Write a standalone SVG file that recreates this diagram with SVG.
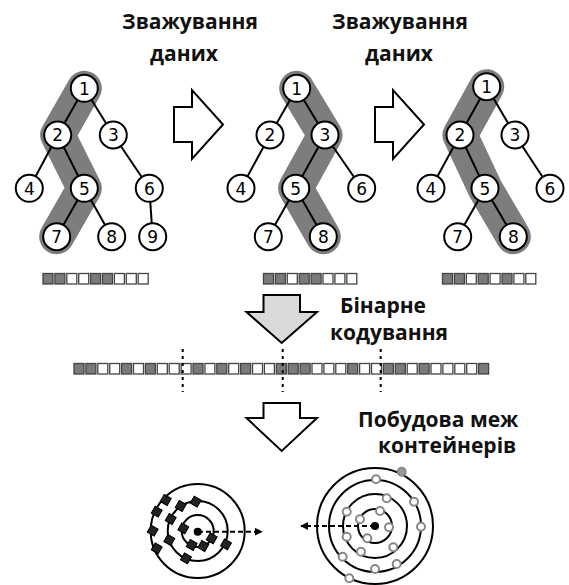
<svg xmlns="http://www.w3.org/2000/svg" width="569" height="585" viewBox="0 0 569 585">
<style>
.lbl{font-family:"Open Sans","Liberation Sans",sans-serif;font-weight:bold;font-size:21px;fill:#111}
.hl{fill:none;stroke:#7d7d7d;stroke-width:35;stroke-linecap:round;stroke-linejoin:round}
.edge{stroke:#000;stroke-width:2}
.node circle{fill:#fff;stroke:#000;stroke-width:2}
.node text{font-family:"DejaVu Sans",sans-serif;font-size:17px;text-anchor:middle;fill:#000}
.arr{fill:#fff;stroke:#000;stroke-width:2;stroke-linejoin:miter}
.d{fill:#7a7a7a;stroke:#444;stroke-width:1.3}
.w{fill:#fff;stroke:#444;stroke-width:1.3}
.dot{stroke:#000;stroke-width:2;stroke-dasharray:3 4}
.ring{fill:none;stroke:#000;stroke-width:2}
.sq{fill:#222;stroke:#000;stroke-width:1}
.oc{fill:#fff;stroke:#888;stroke-width:2}
</style>
<defs>
<marker id="ah" viewBox="0 0 10 10" refX="9" refY="5" markerWidth="4" markerHeight="4" orient="auto-start-reverse"><path d="M0,0 L10,5 L0,10 z" fill="#000"/></marker>
</defs>
<rect width="569" height="585" fill="#fff"/>

<!-- labels -->
<g id="label1"><text class="lbl" x="190" y="29" text-anchor="middle">Зважування</text><text class="lbl" x="184" y="61" text-anchor="middle">даних</text></g>
<g id="label2"><text class="lbl" x="400" y="29" text-anchor="middle">Зважування</text><text class="lbl" x="399" y="61" text-anchor="middle">даних</text></g>
<g id="label3"><text class="lbl" x="340" y="313">Бінарне</text><text class="lbl" x="330" y="340">кодування</text></g>
<g id="label4"><text class="lbl" x="358" y="427">Побудова меж</text><text class="lbl" x="378" y="453">контейнерів</text></g>

<!-- highlights -->
<g id="highlights">
<polyline class="hl" points="84.3,88.3 57.7,135 84.3,188.3 56.7,236.7"/>
<polyline class="hl" points="296.7,88.3 325,135 295.7,188.3 323.3,236.7"/>
<polyline class="hl" points="486.7,86.7 460,135 485,188.3 513.3,236.7"/>
</g>

<g id="connectors">
<!-- tree 1 -->
<line class="edge" x1="84.3" y1="88.3" x2="57.7" y2="135"/>
<line class="edge" x1="84.3" y1="88.3" x2="113.3" y2="135"/>
<line class="edge" x1="57.7" y1="135" x2="29.3" y2="188.3"/>
<line class="edge" x1="57.7" y1="135" x2="84.3" y2="188.3"/>
<line class="edge" x1="113.3" y1="135" x2="149.3" y2="188.3"/>
<line class="edge" x1="84.3" y1="188.3" x2="56.7" y2="236.7"/>
<line class="edge" x1="84.3" y1="188.3" x2="111.7" y2="236.7"/>
<line class="edge" x1="149.3" y1="188.3" x2="152.7" y2="236.7"/>
<!-- tree 2 -->
<line class="edge" x1="296.7" y1="88.3" x2="270" y2="135"/>
<line class="edge" x1="296.7" y1="88.3" x2="325" y2="135"/>
<line class="edge" x1="270" y1="135" x2="241" y2="188.3"/>
<line class="edge" x1="325" y1="135" x2="295.7" y2="188.3"/>
<line class="edge" x1="325" y1="135" x2="361.7" y2="188.3"/>
<line class="edge" x1="295.7" y1="188.3" x2="268.3" y2="236.7"/>
<line class="edge" x1="295.7" y1="188.3" x2="323.3" y2="236.7"/>
<!-- tree 3 -->
<line class="edge" x1="486.7" y1="86.7" x2="460" y2="135"/>
<line class="edge" x1="486.7" y1="86.7" x2="515" y2="135"/>
<line class="edge" x1="460" y1="135" x2="431" y2="188.3"/>
<line class="edge" x1="460" y1="135" x2="485" y2="188.3"/>
<line class="edge" x1="515" y1="135" x2="550" y2="188.3"/>
<line class="edge" x1="485" y1="188.3" x2="457.7" y2="236.7"/>
<line class="edge" x1="485" y1="188.3" x2="513.3" y2="236.7"/>
<!-- big arrows -->
<polygon class="arr" points="174,107 192,107 192,90 223,124.5 192,159 192,142 174,142"/>
<polygon class="arr" points="375,107 393,107 393,90 424,124.5 393,159 393,142 375,142"/>
<polygon class="arr" style="fill:#d9d9d9" points="263.5,295 300,295 300,312 317,312 281.7,343 246.5,312 263.5,312"/>
<polygon class="arr" points="263.5,403 300,403 300,418 317,418 281.7,451 246.5,418 263.5,418"/>
<!-- dashed arrows -->
<line x1="198" y1="531.7" x2="262" y2="531.7" stroke="#000" stroke-width="2" stroke-dasharray="5 3" marker-end="url(#ah)"/>
<line x1="375" y1="526" x2="301" y2="526" stroke="#000" stroke-width="2" stroke-dasharray="5 3" marker-end="url(#ah)"/>
</g>

<!-- tree 1 nodes -->
<g id="t1n1" class="node"><circle cx="84.3" cy="88.3" r="13.5"/><text x="84.3" y="94.5">1</text></g>
<g id="t1n2" class="node"><circle cx="57.7" cy="135" r="13.5"/><text x="57.7" y="141.2">2</text></g>
<g id="t1n3" class="node"><circle cx="113.3" cy="135" r="13.5"/><text x="113.3" y="141.2">3</text></g>
<g id="t1n4" class="node"><circle cx="29.3" cy="188.3" r="13.5"/><text x="29.3" y="194.5">4</text></g>
<g id="t1n5" class="node"><circle cx="84.3" cy="188.3" r="13.5"/><text x="84.3" y="194.5">5</text></g>
<g id="t1n6" class="node"><circle cx="149.3" cy="188.3" r="13.5"/><text x="149.3" y="194.5">6</text></g>
<g id="t1n7" class="node"><circle cx="56.7" cy="236.7" r="13.5"/><text x="56.7" y="242.9">7</text></g>
<g id="t1n8" class="node"><circle cx="111.7" cy="236.7" r="13.5"/><text x="111.7" y="242.9">8</text></g>
<g id="t1n9" class="node"><circle cx="152.7" cy="236.7" r="13.5"/><text x="152.7" y="242.9">9</text></g>
<!-- tree 2 nodes -->
<g id="t2n1" class="node"><circle cx="296.7" cy="88.3" r="13.5"/><text x="296.7" y="94.5">1</text></g>
<g id="t2n2" class="node"><circle cx="270" cy="135" r="13.5"/><text x="270" y="141.2">2</text></g>
<g id="t2n3" class="node"><circle cx="325" cy="135" r="13.5"/><text x="325" y="141.2">3</text></g>
<g id="t2n4" class="node"><circle cx="241" cy="188.3" r="13.5"/><text x="241" y="194.5">4</text></g>
<g id="t2n5" class="node"><circle cx="295.7" cy="188.3" r="13.5"/><text x="295.7" y="194.5">5</text></g>
<g id="t2n6" class="node"><circle cx="361.7" cy="188.3" r="13.5"/><text x="361.7" y="194.5">6</text></g>
<g id="t2n7" class="node"><circle cx="268.3" cy="236.7" r="13.5"/><text x="268.3" y="242.9">7</text></g>
<g id="t2n8" class="node"><circle cx="323.3" cy="236.7" r="13.5"/><text x="323.3" y="242.9">8</text></g>
<!-- tree 3 nodes -->
<g id="t3n1" class="node"><circle cx="486.7" cy="86.7" r="13.5"/><text x="486.7" y="92.9">1</text></g>
<g id="t3n2" class="node"><circle cx="460" cy="135" r="13.5"/><text x="460" y="141.2">2</text></g>
<g id="t3n3" class="node"><circle cx="515" cy="135" r="13.5"/><text x="515" y="141.2">3</text></g>
<g id="t3n4" class="node"><circle cx="431" cy="188.3" r="13.5"/><text x="431" y="194.5">4</text></g>
<g id="t3n5" class="node"><circle cx="485" cy="188.3" r="13.5"/><text x="485" y="194.5">5</text></g>
<g id="t3n6" class="node"><circle cx="550" cy="188.3" r="13.5"/><text x="550" y="194.5">6</text></g>
<g id="t3n7" class="node"><circle cx="457.7" cy="236.7" r="13.5"/><text x="457.7" y="242.9">7</text></g>
<g id="t3n8" class="node"><circle cx="513.3" cy="236.7" r="13.5"/><text x="513.3" y="242.9">8</text></g>

<!-- strips -->
<g id="strip1">
<rect class="d" x="43" y="273.5" width="10" height="10.5"/>
<rect class="d" x="54.9" y="273.5" width="10" height="10.5"/>
<rect class="w" x="66.8" y="273.5" width="10" height="10.5"/>
<rect class="w" x="78.7" y="273.5" width="10" height="10.5"/>
<rect class="d" x="90.6" y="273.5" width="10" height="10.5"/>
<rect class="d" x="102.5" y="273.5" width="10" height="10.5"/>
<rect class="w" x="114.4" y="273.5" width="10" height="10.5"/>
<rect class="w" x="126.3" y="273.5" width="10" height="10.5"/>
<rect class="w" x="138.2" y="273.5" width="10" height="10.5"/>
</g>
<g id="strip2">
<rect class="d" x="263.5" y="273.5" width="10" height="10.5"/>
<rect class="d" x="275.4" y="273.5" width="10" height="10.5"/>
<rect class="w" x="287.3" y="273.5" width="10" height="10.5"/>
<rect class="d" x="299.2" y="273.5" width="10" height="10.5"/>
<rect class="d" x="311.1" y="273.5" width="10" height="10.5"/>
<rect class="w" x="323" y="273.5" width="10" height="10.5"/>
<rect class="w" x="334.9" y="273.5" width="10" height="10.5"/>
<rect class="w" x="346.8" y="273.5" width="10" height="10.5"/>
</g>
<g id="strip3">
<rect class="d" x="442.5" y="273.5" width="10" height="10.5"/>
<rect class="d" x="454.4" y="273.5" width="10" height="10.5"/>
<rect class="w" x="466.3" y="273.5" width="10" height="10.5"/>
<rect class="d" x="478.2" y="273.5" width="10" height="10.5"/>
<rect class="w" x="490.1" y="273.5" width="10" height="10.5"/>
<rect class="d" x="502" y="273.5" width="10" height="10.5"/>
<rect class="w" x="513.9" y="273.5" width="10" height="10.5"/>
<rect class="w" x="525.8" y="273.5" width="10" height="10.5"/>
</g>
<g id="longstrip">
<rect class="d" x="74" y="363.5" width="10" height="10.5"/>
<rect class="d" x="85.9" y="363.5" width="10" height="10.5"/>
<rect class="w" x="97.8" y="363.5" width="10" height="10.5"/>
<rect class="w" x="109.7" y="363.5" width="10" height="10.5"/>
<rect class="d" x="121.6" y="363.5" width="10" height="10.5"/>
<rect class="w" x="133.5" y="363.5" width="10" height="10.5"/>
<rect class="d" x="145.4" y="363.5" width="10" height="10.5"/>
<rect class="w" x="157.3" y="363.5" width="10" height="10.5"/>
<rect class="w" x="169.2" y="363.5" width="10" height="10.5"/>
<rect class="w" x="181.1" y="363.5" width="10" height="10.5"/>
<rect class="d" x="193" y="363.5" width="10" height="10.5"/>
<rect class="w" x="204.9" y="363.5" width="10" height="10.5"/>
<rect class="d" x="216.8" y="363.5" width="10" height="10.5"/>
<rect class="w" x="228.7" y="363.5" width="10" height="10.5"/>
<rect class="d" x="240.6" y="363.5" width="10" height="10.5"/>
<rect class="w" x="252.5" y="363.5" width="10" height="10.5"/>
<rect class="w" x="264.4" y="363.5" width="10" height="10.5"/>
<rect class="d" x="276.3" y="363.5" width="10" height="10.5"/>
<rect class="d" x="288.2" y="363.5" width="10" height="10.5"/>
<rect class="d" x="300.1" y="363.5" width="10" height="10.5"/>
<rect class="w" x="312" y="363.5" width="10" height="10.5"/>
<rect class="w" x="323.9" y="363.5" width="10" height="10.5"/>
<rect class="w" x="335.8" y="363.5" width="10" height="10.5"/>
<rect class="d" x="347.7" y="363.5" width="10" height="10.5"/>
<rect class="w" x="359.6" y="363.5" width="10" height="10.5"/>
<rect class="w" x="371.5" y="363.5" width="10" height="10.5"/>
<rect class="d" x="383.4" y="363.5" width="10" height="10.5"/>
<rect class="d" x="395.3" y="363.5" width="10" height="10.5"/>
<rect class="w" x="407.2" y="363.5" width="10" height="10.5"/>
<rect class="d" x="419.1" y="363.5" width="10" height="10.5"/>
<rect class="w" x="431" y="363.5" width="10" height="10.5"/>
<rect class="w" x="442.9" y="363.5" width="10" height="10.5"/>
<rect class="w" x="454.8" y="363.5" width="10" height="10.5"/>
<rect class="w" x="466.7" y="363.5" width="10" height="10.5"/>
<rect class="d" x="478.6" y="363.5" width="10" height="10.5"/>
</g>
<g id="dividers">
<line class="dot" x1="182.7" y1="349" x2="182.7" y2="392"/>
<line class="dot" x1="282.7" y1="349" x2="282.7" y2="392"/>
<line class="dot" x1="380.7" y1="349" x2="380.7" y2="392"/>
</g>

<!-- left target -->
<g id="target1">
<circle class="ring" cx="197.7" cy="531" r="47"/>
<circle class="ring" cx="197.7" cy="531" r="30"/>
<circle class="ring" cx="197.7" cy="531" r="16"/>
<circle cx="197.7" cy="531.7" r="4" fill="#000"/>
<g class="sq">
<rect x="-4" y="-4" width="8" height="8" transform="translate(165.7,500) rotate(30)"/>
<rect x="-4" y="-4" width="8" height="8" transform="translate(156.7,511.7) rotate(30)"/>
<rect x="-4" y="-4" width="8" height="8" transform="translate(152.7,530.7) rotate(30)"/>
<rect x="-4" y="-4" width="8" height="8" transform="translate(156.7,548.3) rotate(30)"/>
<rect x="-4" y="-4" width="8" height="8" transform="translate(180.7,506) rotate(30)"/>
<rect x="-4" y="-4" width="8" height="8" transform="translate(195.7,501.7) rotate(30)"/>
<rect x="-4" y="-4" width="8" height="8" transform="translate(170.7,519) rotate(30)"/>
<rect x="-4" y="-4" width="8" height="8" transform="translate(169.3,540) rotate(30)"/>
<rect x="-4" y="-4" width="8" height="8" transform="translate(186,558.3) rotate(30)"/>
<rect x="-4" y="-4" width="8" height="8" transform="translate(183.3,528.3) rotate(30)"/>
<rect x="-4" y="-4" width="8" height="8" transform="translate(191.7,545) rotate(30)"/>
<rect x="-4" y="-4" width="8" height="8" transform="translate(203.3,546) rotate(30)"/>
<rect x="-4" y="-4" width="8" height="8" transform="translate(211.7,538.3) rotate(30)"/>
<rect x="-4" y="-4" width="8" height="8" transform="translate(226,544.3) rotate(30)"/>
</g>
</g>

<!-- right target -->
<g id="target2">
<circle class="ring" cx="375" cy="526" r="58"/>
<circle class="ring" cx="375" cy="526" r="46"/>
<circle class="ring" cx="375" cy="526" r="32"/>
<circle class="ring" cx="375" cy="526" r="17"/>
<circle cx="375" cy="526" r="4" fill="#000"/>
<circle class="oc" cx="401.7" cy="471.7" r="4" style="fill:#999"/>
<circle class="oc" cx="376" cy="479.3" r="4"/>
<circle class="oc" cx="414" cy="501.7" r="4"/>
<circle class="oc" cx="386.7" cy="498.3" r="4"/>
<circle class="oc" cx="346.7" cy="511.7" r="4"/>
<circle class="oc" cx="360" cy="519.3" r="4"/>
<circle class="oc" cx="380" cy="511" r="4"/>
<circle class="oc" cx="389" cy="527.3" r="4"/>
<circle class="oc" cx="367.3" cy="538.3" r="4"/>
<circle class="oc" cx="346.7" cy="536.7" r="4"/>
<circle class="oc" cx="421" cy="526.7" r="4"/>
<circle class="oc" cx="361" cy="551.7" r="4"/>
<circle class="oc" cx="393.3" cy="547.3" r="4"/>
<circle class="oc" cx="342.7" cy="556.7" r="4"/>
<circle class="oc" cx="396.7" cy="564" r="4"/>
<circle class="oc" cx="375" cy="569" r="4"/>
<circle class="oc" cx="349.3" cy="578.3" r="4"/>
</g>
</svg>
